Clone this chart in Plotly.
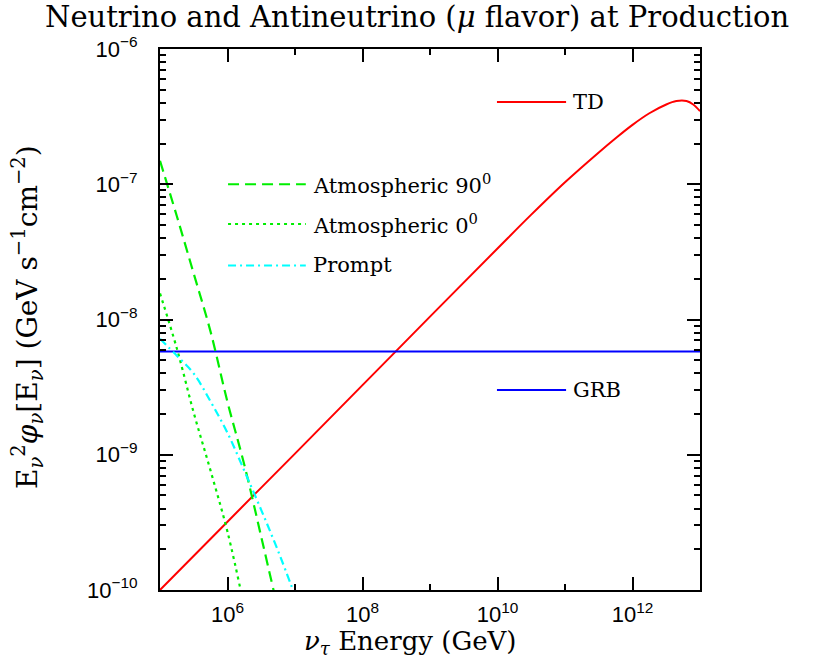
import plotly.graph_objects as go

# ---- data ----
td_E = [1e5, 1e6, 1e7, 1e8, 1e9, 1e10, 10**10.5, 1e11, 10**11.5, 10**11.75, 1e12,
        10**12.25, 10**12.5, 10**12.65, 10**12.8, 10**12.9, 1e13]
td_F = [1.0e-10, 3.2e-10, 1.02e-9, 3.27e-9, 1.05e-8, 3.35e-8, 5.96e-8, 1.035e-7, 1.72e-7,
        2.19e-7, 2.75e-7, 3.35e-7, 3.89e-7, 4.12e-7, 4.12e-7, 3.89e-7, 3.47e-7]

grb_E = [1e5, 1e13]
grb_F = [5.8e-9, 5.8e-9]

atm90_E = [1e5, 10**5.25, 10**5.5, 10**5.75, 1e6, 10**6.25, 10**6.5, 10**6.75]
atm90_F = [1.49e-7, 5.8e-8, 2.18e-8, 8.1e-9, 2.45e-9, 8.4e-10, 2.47e-10, 7.1e-11]

atm0_E = [1e5, 10**5.25, 10**5.5, 10**5.75, 1e6, 10**6.25]
atm0_F = [1.56e-8, 6.1e-9, 2.04e-9, 7.6e-10, 2.69e-10, 7.4e-11]

prompt_E = [1e5, 10**5.25, 10**5.5, 10**5.75, 1e6, 10**6.25, 10**6.5, 10**6.75, 1e7]
prompt_F = [7.2e-9, 5.4e-9, 3.98e-9, 2.47e-9, 1.45e-9, 7.6e-10, 3.9e-10, 1.94e-10, 9.1e-11]

x_tickvals = [1e6, 1e8, 1e10, 1e12]
x_ticktext = ["10<sup>6</sup>", "10<sup>8</sup>", "10<sup>10</sup>", "10<sup>12</sup>"]
y_tickvals = [1e-10, 1e-9, 1e-8, 1e-7, 1e-6]
y_ticktext = ["10<sup>\u221210</sup>", "10<sup>\u22129</sup>", "10<sup>\u22128</sup>",
              "10<sup>\u22127</sup>", "10<sup>\u22126</sup>"]

title_text = "Neutrino and Antineutrino (<i>\u03bc</i> flavor) at Production"
x_title = "<i>\u03bd</i><sub><i>\u03c4</i></sub> Energy (GeV)"
y_title = ("E<sub><i>\u03bd</i></sub><sup>2</sup><i>\u03c6</i><sub><i>\u03bd</i></sub>"
           "[E<sub><i>\u03bd</i></sub>] (GeV s<sup>\u22121</sup>cm<sup>\u22122</sup>)")

RED, BLUE, GREEN, CYAN = "#ff0000", "#0000ff", "#00ee00", "#00ffff"
DASH90 = "11px,6px"
DOT0 = "3px,4px"
DASHDOT = "8px,4px,2px,4px"

fig = go.Figure()
fig.add_trace(go.Scatter(x=td_E, y=td_F, mode="lines", line=dict(color=RED, width=2, shape="spline"),
                         showlegend=False))
fig.add_trace(go.Scatter(x=grb_E, y=grb_F, mode="lines", line=dict(color=BLUE, width=2),
                         showlegend=False))
fig.add_trace(go.Scatter(x=atm90_E, y=atm90_F, mode="lines",
                         line=dict(color=GREEN, width=2.2, dash=DASH90, shape="spline"), showlegend=False))
fig.add_trace(go.Scatter(x=atm0_E, y=atm0_F, mode="lines",
                         line=dict(color=GREEN, width=2.2, dash=DOT0, shape="spline"), showlegend=False))
fig.add_trace(go.Scatter(x=prompt_E, y=prompt_F, mode="lines",
                         line=dict(color=CYAN, width=2.2, dash=DASHDOT, shape="spline"), showlegend=False))

# in-plot key (line samples + labels), positioned in paper coordinates
key = [
    (0.126, 0.270, 0.750, GREEN, DASH90, "Atmospheric 90<sup>0</sup>"),
    (0.126, 0.270, 0.6765, GREEN, DOT0, "Atmospheric 0<sup>0</sup>"),
    (0.126, 0.270, 0.600, CYAN, DASHDOT, "Prompt"),
    (0.624, 0.752, 0.902, RED, "solid", "TD"),
    (0.624, 0.752, 0.3697, BLUE, "solid", "GRB"),
]
serif = "DejaVu Serif"
for x0, x1, yy, col, dash, label in key:
    fig.add_shape(type="line", xref="paper", yref="paper", x0=x0, x1=x1, y0=yy, y1=yy,
                  line=dict(color=col, width=2, dash=dash))
    fig.add_annotation(xref="paper", yref="paper", x=x1 + 0.010, y=yy, text=label, showarrow=False,
                       xanchor="left", yanchor="middle", font=dict(family=serif, size=21, color="black"))

fig.add_annotation(xref="paper", yref="paper", x=0.476, y=1.060, text=title_text, showarrow=False,
                   xanchor="center", yanchor="middle", font=dict(family=serif, size=29, color="black"))
fig.add_annotation(xref="paper", yref="paper", x=0.463, y=-0.0965, text=x_title, showarrow=False,
                   xanchor="center", yanchor="middle", font=dict(family=serif, size=26, color="black"))
fig.add_annotation(xref="paper", yref="paper", x=-0.244, y=0.505, text=y_title, showarrow=False,
                   textangle=-90, xanchor="center", yanchor="middle",
                   font=dict(family=serif, size=28, color="black"))

axis_common = dict(type="log", showgrid=False, zeroline=False, showline=True, linecolor="black",
                   linewidth=2, mirror="ticks", ticks="inside", tickcolor="black", tickwidth=2,
                   ticklen=13, tickfont=dict(family="Liberation Sans", size=22, color="black"))
fig.update_xaxes(range=[5, 13], tickvals=x_tickvals, ticktext=x_ticktext, ticklabelstandoff=4,
                 minor=dict(tickvals=[1e5, 1e7, 1e9, 1e11, 1e13], ticks="inside", ticklen=6,
                            tickwidth=2, tickcolor="black"),
                 **axis_common)
fig.update_yaxes(range=[-10, -6], tickvals=y_tickvals, ticktext=y_ticktext, ticklabelstandoff=16,
                 minor=dict(dtick="D1", ticks="inside", ticklen=6, tickwidth=2, tickcolor="black"),
                 **axis_common)

fig.update_layout(width=835, height=662, margin=dict(l=160, r=135, t=49, b=72),
                  plot_bgcolor="white", paper_bgcolor="white", showlegend=False)

fig.write_html("out.html")
